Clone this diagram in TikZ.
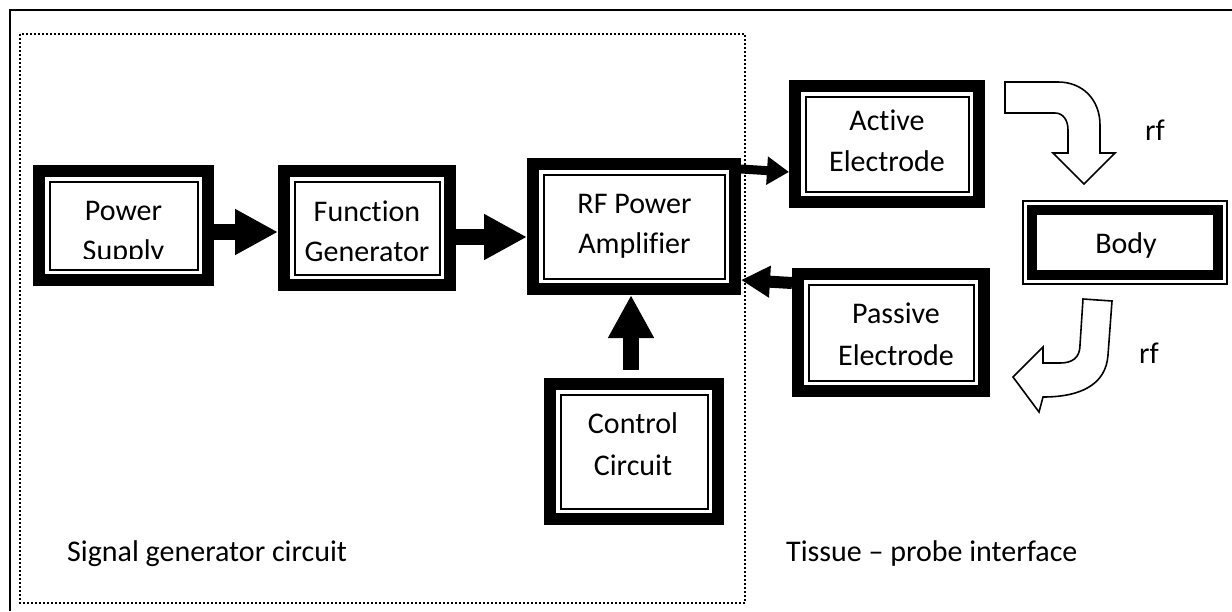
\documentclass[tikz,border=0pt]{standalone}
\usepackage{fontspec}
\setmainfont{Carlito}[Ligatures=NoCommon]
\usetikzlibrary{arrows.meta,calc}
\begin{document}
\begin{tikzpicture}[x=1pt,y=-1pt,
  dbox/.style={draw=black, line width=12pt, inner sep=0pt, outer sep=6pt, fill=white},
  bodybox/.style={draw=black, line width=2pt, inner sep=0pt, outer sep=1pt, fill=white},
  lbl/.style={font=\fontsize{30}{36}\selectfont, anchor=base, inner sep=0pt},
  thinline/.style={draw=black, line width=2pt},
  bigarrow/.style={line width=16pt, -{Triangle[width=43pt,length=43pt]}},
  midarrow/.style={line width=9pt, -{Triangle[width=27pt,length=22pt]}},
  midarrowb/.style={line width=12pt, -{Triangle[width=30pt,length=29pt]}},
  curvy/.style={draw=black, line width=1.6pt, fill=white, line join=miter}
]
\useasboundingbox (0,0) rectangle (1232,611);
\fill[white] (0,0) rectangle (1232,611);
% outer frame
\draw[line width=2pt] (10,611) -- (10,10) -- (1232,10);
% dotted region
\draw[line width=2pt, dash pattern=on 2pt off 2pt] (20,34) rectangle (745,603);

% boxes
\node[dbox, minimum width=169pt, minimum height=109pt] (ps) at (123.5,225.5) {};
\node[dbox, minimum width=166pt, minimum height=114pt] (fg) at (367,228) {};
\node[dbox, minimum width=202pt, minimum height=125pt] (rf) at (634,226.5) {};
\node[dbox, minimum width=168pt, minimum height=135pt] (cc) at (634,451.5) {};
\node[dbox, minimum width=184pt, minimum height=116pt] (ae) at (887,144) {};
\node[dbox, minimum width=186pt, minimum height=117pt] (pe) at (891,332.5) {};
\node[bodybox, minimum width=204pt, minimum height=83pt] (body) at (1125,242.5) {};

\foreach \n in {ps,fg,rf,cc,ae,pe}
  \draw[thinline] ([shift={(16.5pt,-16.5pt)}]\n.north west) rectangle ([shift={(-16.5pt,16.5pt)}]\n.south east);
\draw[line width=9.5pt] ([shift={(10pt,-10pt)}]body.north west) rectangle ([shift={(-10pt,10pt)}]body.south east);

% texts
\node[lbl] (ps1) at (123.5,220) {Power};
\begin{scope}
  \clip (45,225) rectangle (205,258.5);
  \node[lbl] (ps2) at (123.5,260) {Supply};
\end{scope}
\node[lbl] (fg1) at (367,221) {Function};
\node[lbl] (fg2) at (367,261) {Generator};
\node[lbl] (rf1) at (634.5,213) {RF Power};
\node[lbl] (rf2) at (634.5,253) {Amplifier};
\node[lbl] (cc1) at (633,433) {Control};
\node[lbl] (cc2) at (633,475) {Circuit};
\node[lbl] (ae1) at (887,130) {Active};
\node[lbl] (ae2) at (887,171) {Electrode};
\node[lbl] (pe1) at (896,323) {Passive};
\node[lbl] (pe2) at (896,365) {Electrode};
\node[lbl] (bd) at (1126,253) {Body};
\node[lbl] (rfa) at (1155,140) {rf};
\node[lbl] (rfb) at (1149,363) {rf};
\node[lbl, anchor=base west] (sgc) at (67,561) {Signal generator circuit};
\node[lbl, anchor=base west] (tpi) at (786,561) {Tissue – probe interface};

% straight arrows
\draw[bigarrow] ([yshift=-6.5pt]ps.east) -- ([yshift=-6.5pt]ps.east -| fg.west);
\draw[bigarrow] ([yshift=-9pt]fg.east) -- ([yshift=-9pt]fg.east -| rf.west);
\draw[bigarrow] ([xshift=-3pt,yshift=8pt]cc.north) -- ([xshift=-3pt]rf.south);
\draw[midarrow] ([yshift=57.5pt]rf.east) -- ([yshift=-28pt]ae.west);
\draw[midarrowb] ([yshift=49.5pt]pe.west) -- ([yshift=-53.5pt]rf.east);

% curved hollow arrows
\draw[curvy] (1005,82) -- (1058,82) .. controls (1083,82) and (1100,100) .. (1100,125)
  -- (1100,153) -- (1115,153) -- (1084,184) -- (1053,153) -- (1068,153) -- (1068,130)
  .. controls (1068,120) and (1063,113) .. (1055,113) -- (1005,113) -- cycle;
\draw[curvy] (1083,299) -- (1112,301) -- (1108,355) .. controls (1106,385) and (1080,397) .. (1043,397)
  -- (1039,412) -- (1013,377) -- (1043,347) -- (1043,363) -- (1060,363)
  .. controls (1072,363) and (1080,358) .. (1080,345) -- cycle;
\end{tikzpicture}
\end{document}
